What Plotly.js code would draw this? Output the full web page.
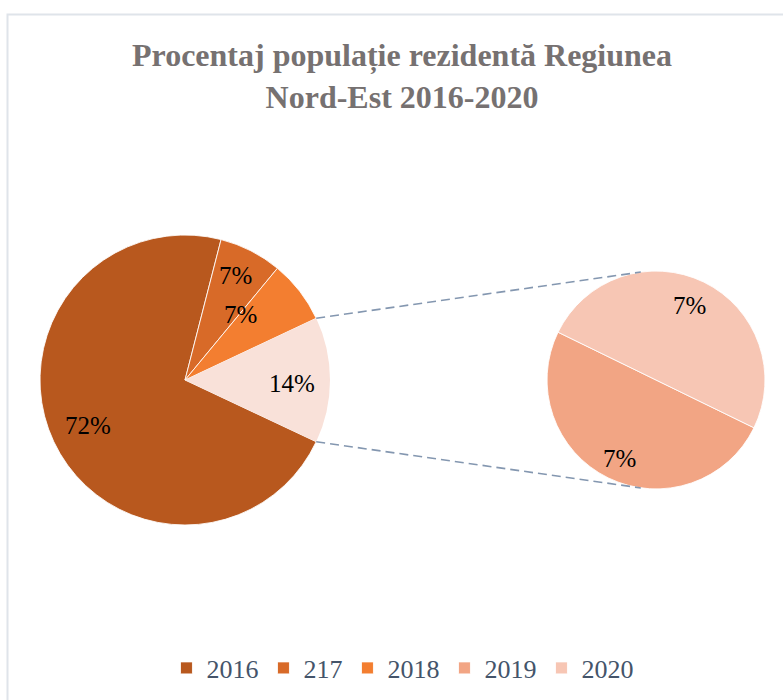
<!DOCTYPE html>
<html>
<head>
<meta charset="utf-8">
<script src="https://cdn.plot.ly/plotly-3.0.1.min.js"></script>
<style>html,body{margin:0;padding:0;background:#fff;}#chart{width:783px;height:700px;}</style>
</head>
<body>
<div id="chart"></div>
<script>
// ---- data ----
var years = ['2016', '217', '2018', '2019', '2020'];
var shares = [72, 7, 7, 7, 7];            // percent of total
var splitFrom = 3;                         // 2019 and 2020 go to the secondary pie

var titleText = 'Procentaj populație rezidentă Regiunea<br>Nord-Est 2016-2020';

// ---- style ----
var mainColors = ['#b8581e', '#d86a28', '#f37e30', '#f9e1d9', '#f9e1d9'];
var subColors = ['#f2a584', '#f7c6b4'];
var mainLabelR = [0.74, 0.80, 0.59, 0.74];   // label radius (fraction of pie radius)
var mainLabelDA = [0, -1, -12, 2];           // label angle nudges (deg)
var subLabelR = [0.79, 0.75];
var subLabelDA = [-1, -2];
var subRotation = 116;

var W = 783, H = 700;
var dom1 = {x: [40 / W, 330 / W], y: [175 / H, 465 / H]};
var dom2 = {x: [547 / W, 765 / W], y: [211 / H, 429 / H]};
var serif = 'Liberation Serif, Times New Roman, serif';

// ---- derived ----
var total = shares.reduce(function (a, b) { return a + b; }, 0);
var subLabels = years.slice(splitFrom);
var subValues = shares.slice(splitFrom);
var otherValue = subValues.reduce(function (a, b) { return a + b; }, 0);
var otherShare = otherValue / total;
var mainRotation = 90 + otherShare * 180;
function pct(v) { return Math.round(v / total * 100) + '%'; }

var lineW = years.map(function (y, i) { return i < splitFrom ? 1 : 0; });

var mainPie = {
  type: 'pie',
  labels: years,
  values: shares,
  textinfo: 'none',
  marker: {colors: mainColors, line: {color: 'rgba(255,255,255,0.85)', width: lineW}},
  sort: false,
  direction: 'clockwise',
  rotation: mainRotation,
  domain: dom1,
  legendrank: 1,
  hoverinfo: 'label+percent'
};

var subPie = {
  type: 'pie',
  labels: subLabels,
  values: subValues,
  textinfo: 'none',
  marker: {colors: subColors, line: {color: 'rgba(255,255,255,0.85)', width: 1}},
  sort: false,
  direction: 'clockwise',
  rotation: subRotation,
  domain: dom2,
  legendrank: 2,
  hoverinfo: 'label+percent'
};

function centerR(d) {
  var cx = (d.x[0] + d.x[1]) / 2 * W;
  var cy = H - (d.y[0] + d.y[1]) / 2 * H;
  var r = Math.min((d.x[1] - d.x[0]) * W, (d.y[1] - d.y[0]) * H) / 2;
  return {cx: cx, cy: cy, r: r};
}
function pt(c, deg, f) {
  var a = deg * Math.PI / 180;
  f = f || 1;
  return [c.cx + f * c.r * Math.sin(a), c.cy - f * c.r * Math.cos(a)];
}
var c1 = centerR(dom1), c2 = centerR(dom2);

// data labels
var annotations = [];
function addLabel(c, deg, f, txt) {
  var p = pt(c, deg, f);
  annotations.push({xref: 'paper', yref: 'paper', x: p[0] / W, y: 1 - p[1] / H,
    xanchor: 'center', yanchor: 'middle', showarrow: false, text: txt,
    font: {family: serif, size: 25, color: '#000'}});
}
var mainSlices = shares.slice(0, splitFrom).concat([otherValue]);
var cum = 0;
mainSlices.forEach(function (v, i) {
  var mid = mainRotation + (cum + v / 2) / total * 360;
  addLabel(c1, mid + mainLabelDA[i], mainLabelR[i], pct(v));
  cum += v;
});
cum = 0;
subValues.forEach(function (v, i) {
  var mid = subRotation + (cum + v / 2) / otherValue * 360;
  addLabel(c2, mid + subLabelDA[i], subLabelR[i], pct(v));
  cum += v;
});

// connector lines
var half = otherShare * 180;
function lineShape(a, b) {
  return {type: 'line', xref: 'paper', yref: 'paper',
    x0: a[0] / W, y0: 1 - a[1] / H, x1: b[0] / W, y1: 1 - b[1] / H,
    line: {color: '#8497b0', width: 1.6, dash: '9px,5px'}};
}

var layout = {
  width: W, height: H,
  margin: {l: 0, r: 0, t: 0, b: 0},
  paper_bgcolor: '#fff',
  plot_bgcolor: '#fff',
  title: {
    text: titleText,
    x: 402 / W, xanchor: 'center',
    y: 1 - 66 / H, yanchor: 'middle',
    font: {family: serif, size: 32, color: '#767171', weight: 'bold'}
  },
  legend: {
    orientation: 'h',
    x: 0.514, xanchor: 'center',
    y: 32 / H, yanchor: 'middle',
    font: {family: serif, size: 26, color: '#44546a'},
    itemclick: false
  },
  annotations: annotations,
  shapes: [
    {type: 'rect', xref: 'paper', yref: 'paper', x0: 7.5 / W, x1: 1.05, y0: -0.05, y1: 1 - 14.5 / H,
      line: {color: '#dfe4ea', width: 2}, layer: 'below'},
    lineShape(pt(c1, 90 - half), pt(c2, -8)),
    lineShape(pt(c1, 90 + half), pt(c2, 188))
  ]
};

Plotly.newPlot('chart', [subPie, mainPie], layout, {displayModeBar: false, staticPlot: true});
</script>
</body>
</html>
